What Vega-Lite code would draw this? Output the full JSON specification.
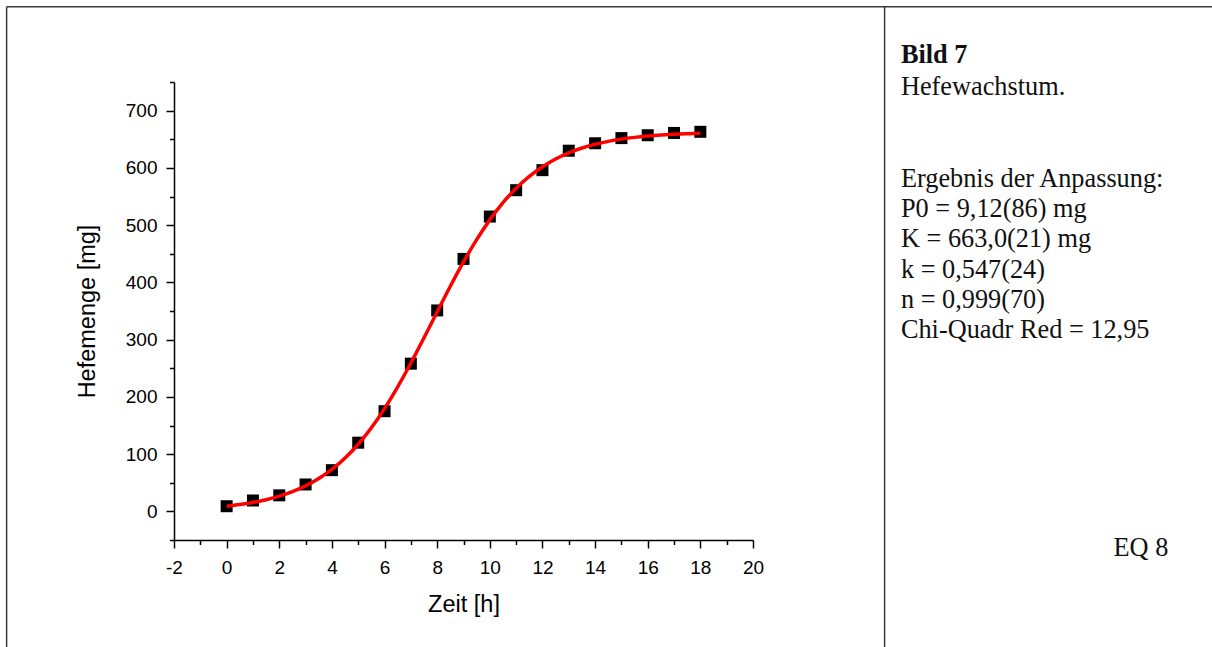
{
  "$schema": "https://vega.github.io/schema/vega-lite/v6.json",
  "autosize": {"type": "none"},
  "width": 579,
  "height": 458,
  "padding": {"left": 174, "top": 82, "right": 459, "bottom": 107},
  "background": "white",
  "config": {
    "view": {"stroke": null},
    "axis": {
      "grid": false,
      "domainColor": "black",
      "domainWidth": 1.5,
      "tickColor": "black",
      "tickWidth": 1.5,
      "labelFont": "Liberation Sans",
      "labelFontSize": 19,
      "labelColor": "black",
      "labelOverlap": false,
      "labelFlush": false,
      "titleFont": "Liberation Sans",
      "titleFontSize": 23.5,
      "titleFontWeight": "normal",
      "titleColor": "black"
    }
  },
  "datasets": {
    "messung": [
      {"t": 0, "menge": 9},
      {"t": 1, "menge": 19},
      {"t": 2, "menge": 28},
      {"t": 3, "menge": 47},
      {"t": 4, "menge": 72},
      {"t": 5, "menge": 120},
      {"t": 6, "menge": 175},
      {"t": 7, "menge": 258},
      {"t": 8, "menge": 351},
      {"t": 9, "menge": 441},
      {"t": 10, "menge": 515},
      {"t": 11, "menge": 561},
      {"t": 12, "menge": 596},
      {"t": 13, "menge": 630},
      {"t": 14, "menge": 643},
      {"t": 15, "menge": 652},
      {"t": 16, "menge": 657},
      {"t": 17, "menge": 661},
      {"t": 18, "menge": 663}
    ],
    "anpassung": [
      {"t": 0, "menge": 9.12},
      {"t": 0.5, "menge": 11.94},
      {"t": 1, "menge": 15.60},
      {"t": 1.5, "menge": 20.36},
      {"t": 2, "menge": 26.51},
      {"t": 2.5, "menge": 34.41},
      {"t": 3, "menge": 44.51},
      {"t": 3.5, "menge": 57.30},
      {"t": 4, "menge": 73.33},
      {"t": 4.5, "menge": 93.16},
      {"t": 5, "menge": 117.27},
      {"t": 5.5, "menge": 146.04},
      {"t": 6, "menge": 179.53},
      {"t": 6.5, "menge": 217.47},
      {"t": 7, "menge": 259.14},
      {"t": 7.5, "menge": 303.35},
      {"t": 8, "menge": 348.59},
      {"t": 8.5, "menge": 393.21},
      {"t": 9, "menge": 435.63},
      {"t": 9.5, "menge": 474.57},
      {"t": 10, "menge": 509.19},
      {"t": 10.5, "menge": 539.12},
      {"t": 11, "menge": 564.35},
      {"t": 11.5, "menge": 585.18},
      {"t": 12, "menge": 602.09},
      {"t": 12.5, "menge": 615.62},
      {"t": 13, "menge": 626.33},
      {"t": 13.5, "menge": 634.73},
      {"t": 14, "menge": 641.27},
      {"t": 14.5, "menge": 646.34},
      {"t": 15, "menge": 650.25},
      {"t": 15.5, "menge": 653.26},
      {"t": 16, "menge": 655.56},
      {"t": 16.5, "menge": 657.33},
      {"t": 17, "menge": 658.67},
      {"t": 17.5, "menge": 659.70},
      {"t": 18, "menge": 660.49}
    ]
  },
  "resolve": {"scale": {"x": "independent", "y": "independent"}},
  "layer": [
    {
      "layer": [
        {
          "data": {"name": "messung"},
          "mark": {"type": "point", "shape": "square", "filled": true, "color": "black", "opacity": 1, "size": 144},
          "encoding": {
            "x": {
              "field": "t",
              "type": "quantitative",
              "scale": {"domain": [-2, 20], "nice": false, "zero": false},
              "axis": {
                "title": "Zeit [h]",
                "orient": "bottom",
                "values": [-2, 0, 2, 4, 6, 8, 10, 12, 14, 16, 18, 20],
                "labelExpr": "'' + datum.value",
                "tickSize": 8,
                "labelPadding": 10,
                "titlePadding": 15
              }
            },
            "y": {
              "field": "menge",
              "type": "quantitative",
              "scale": {"domain": [-50, 750], "nice": false, "zero": false},
              "axis": {
                "title": "Hefemenge [mg]",
                "orient": "left",
                "values": [0, 100, 200, 300, 400, 500, 600, 700],
                "format": "d",
                "tickSize": 8,
                "labelPadding": 9,
                "titlePadding": 26
              }
            }
          }
        },
        {
          "data": {"name": "anpassung"},
          "mark": {"type": "line", "color": "#ff0000", "strokeWidth": 3.5, "interpolate": "monotone"},
          "encoding": {
            "x": {"field": "t", "type": "quantitative"},
            "y": {"field": "menge", "type": "quantitative"}
          }
        }
      ]
    },
    {
      "data": {"values": [{}]},
      "layer": [
        {
          "mark": {"type": "text", "font": "Liberation Serif", "fontSize": 26.3, "lineHeight": 30.3, "color": "#111111", "align": "left", "baseline": "alphabetic", "clip": false},
          "encoding": {
            "x": {
              "datum": 25.62,
              "type": "quantitative",
              "scale": {"domain": [-2, 20], "nice": false, "zero": false},
              "axis": {
                "orient": "bottom",
                "title": null,
                "values": [-1, 1, 3, 5, 7, 9, 11, 13, 15, 17, 19],
                "labels": false,
                "domain": false,
                "tickSize": 4.5
              }
            },
            "y": {
              "datum": 567.2,
              "type": "quantitative",
              "scale": {"domain": [-50, 750], "nice": false, "zero": false},
              "axis": {
                "orient": "left",
                "title": null,
                "values": [-50, 50, 150, 250, 350, 450, 550, 650, 750],
                "labels": false,
                "domain": false,
                "tickSize": 4.5
              }
            },
            "text": {"value": ["Ergebnis der Anpassung:", "P0 = 9,12(86) mg", "K = 663,0(21) mg", "k = 0,547(24)", "n = 0,999(70)", "Chi-Quadr Red = 12,95"]}
          }
        },
        {
          "mark": {"type": "rule", "color": "#3a3a3a", "strokeWidth": 1.5, "clip": false},
          "encoding": {
            "x": {"datum": -8.36, "type": "quantitative"},
            "x2": {"datum": 38},
            "y": {"datum": 881.6, "type": "quantitative"}
          }
        },
        {
          "mark": {"type": "rule", "color": "#3a3a3a", "strokeWidth": 1.5, "clip": false},
          "encoding": {
            "x": {"datum": -8.36, "type": "quantitative"},
            "y": {"datum": 881.6, "type": "quantitative"},
            "y2": {"datum": -260}
          }
        },
        {
          "mark": {"type": "rule", "color": "#3a3a3a", "strokeWidth": 1.5, "clip": false},
          "encoding": {
            "x": {"datum": 25, "type": "quantitative"},
            "y": {"datum": 881.6, "type": "quantitative"},
            "y2": {"datum": -260}
          }
        },
        {
          "mark": {"type": "text", "font": "Liberation Serif", "fontSize": 26.3, "fontWeight": "bold", "color": "#111111", "align": "left", "baseline": "alphabetic", "clip": false},
          "encoding": {
            "x": {"datum": 25.62, "type": "quantitative"},
            "y": {"datum": 782.6, "type": "quantitative"},
            "text": {"value": "Bild 7"}
          }
        },
        {
          "mark": {"type": "text", "font": "Liberation Serif", "fontSize": 26.3, "color": "#111111", "align": "left", "baseline": "alphabetic", "clip": false},
          "encoding": {
            "x": {"datum": 25.62, "type": "quantitative"},
            "y": {"datum": 727.5, "type": "quantitative"},
            "text": {"value": "Hefewachstum."}
          }
        },
        {
          "mark": {"type": "text", "font": "Liberation Serif", "fontSize": 26.3, "color": "#111111", "align": "right", "baseline": "alphabetic", "clip": false},
          "encoding": {
            "x": {"datum": 35.78, "type": "quantitative"},
            "y": {"datum": -77.9, "type": "quantitative"},
            "text": {"value": "EQ 8"}
          }
        }
      ]
    }
  ]
}
